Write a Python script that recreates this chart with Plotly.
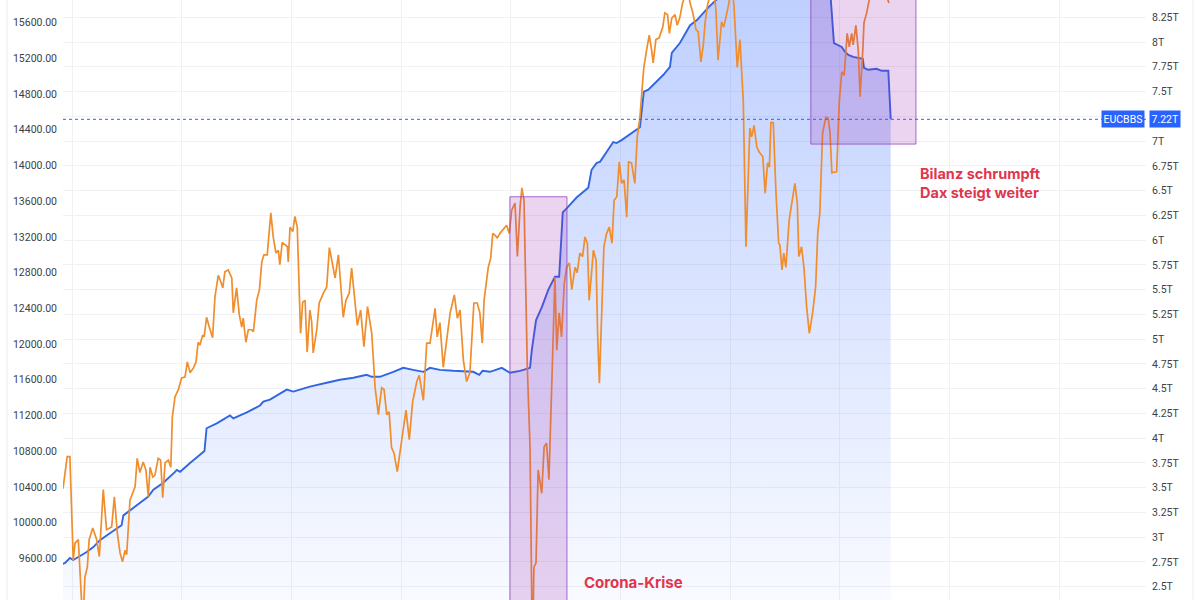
import plotly.graph_objects as go

# ---------------- data ----------------
dax_dates = [
    "2015-12-02", "2015-12-16", "2015-12-25", "2016-01-05", "2016-01-11", "2016-01-22", "2016-02-06", "2016-02-13",
    "2016-02-21", "2016-02-27", "2016-03-10", "2016-03-23", "2016-04-01", "2016-04-14", "2016-04-25", "2016-05-04",
    "2016-05-12", "2016-05-21", "2016-05-31", "2016-06-09", "2016-06-17", "2016-06-26", "2016-07-01", "2016-07-12",
    "2016-07-21", "2016-07-29", "2016-08-05", "2016-08-14", "2016-08-25", "2016-09-03", "2016-09-11", "2016-09-17",
    "2016-09-26", "2016-10-03", "2016-10-14", "2016-10-22", "2016-10-29", "2016-11-06", "2016-11-17", "2016-11-25",
    "2016-11-30", "2016-12-09", "2016-12-20", "2016-12-31", "2017-01-11", "2017-01-19", "2017-01-28", "2017-02-08",
    "2017-02-17", "2017-02-24", "2017-03-02", "2017-03-11", "2017-03-16", "2017-03-24", "2017-04-02", "2017-04-13",
    "2017-04-21", "2017-05-02", "2017-05-10", "2017-05-17", "2017-05-24", "2017-06-04", "2017-06-16", "2017-06-21",
    "2017-07-02", "2017-07-11", "2017-07-19", "2017-07-24", "2017-08-02", "2017-08-10", "2017-08-21", "2017-08-27",
    "2017-09-07", "2017-09-16", "2017-09-24", "2017-10-01", "2017-10-12", "2017-10-24", "2017-11-01", "2017-11-10",
    "2017-11-18", "2017-11-23", "2017-12-01", "2017-12-10", "2017-12-18", "2017-12-21", "2017-12-27", "2018-01-05",
    "2018-01-12", "2018-01-20", "2018-01-31", "2018-02-07", "2018-02-15", "2018-02-22", "2018-03-03", "2018-03-09",
    "2018-03-14", "2018-03-26", "2018-04-03", "2018-04-17", "2018-04-28", "2018-05-07", "2018-05-26", "2018-06-06",
    "2018-06-22", "2018-07-01", "2018-07-12", "2018-07-20", "2018-07-31", "2018-08-08", "2018-08-19", "2018-08-30",
    "2018-09-11", "2018-09-25", "2018-10-06", "2018-10-17", "2018-10-28", "2018-11-05", "2018-11-14", "2018-11-22",
    "2018-11-30", "2018-12-08", "2018-12-19", "2019-01-03", "2019-01-17", "2019-01-28", "2019-02-08", "2019-02-22",
    "2019-03-02", "2019-03-16", "2019-03-27", "2019-04-07", "2019-04-24", "2019-05-01", "2019-05-10", "2019-05-21",
    "2019-06-02", "2019-06-13", "2019-06-27", "2019-07-07", "2019-07-16", "2019-07-27", "2019-08-07", "2019-08-18",
    "2019-08-31", "2019-09-11", "2019-09-20", "2019-09-28", "2019-10-04", "2019-10-18", "2019-10-26", "2019-11-02",
    "2019-11-09", "2019-11-17", "2019-11-26", "2019-12-07", "2019-12-18", "2019-12-27", "2020-01-04", "2020-01-15",
    "2020-01-23", "2020-02-01", "2020-02-07", "2020-02-14", "2020-02-25", "2020-03-05", "2020-03-13", "2020-03-18",
    "2020-03-25", "2020-04-01", "2020-04-13", "2020-04-21", "2020-04-29", "2020-05-07", "2020-05-16", "2020-05-27",
    "2020-06-02", "2020-06-10", "2020-06-18", "2020-06-27", "2020-07-05", "2020-07-14", "2020-07-22", "2020-08-02",
    "2020-08-09", "2020-08-18", "2020-08-27", "2020-09-04", "2020-09-12", "2020-09-18", "2020-09-26", "2020-10-02",
    "2020-10-11", "2020-10-16", "2020-10-22", "2020-10-30", "2020-11-06", "2020-11-15", "2020-11-24", "2020-12-03",
    "2020-12-10", "2020-12-19", "2020-12-27", "2021-01-04", "2021-01-12", "2021-01-21", "2021-01-27", "2021-02-06",
    "2021-02-17", "2021-02-25", "2021-03-06", "2021-03-12", "2021-03-19", "2021-03-28", "2021-04-06", "2021-04-14",
    "2021-04-19", "2021-04-28", "2021-05-09", "2021-05-21", "2021-05-28", "2021-06-06", "2021-06-12", "2021-06-20",
    "2021-07-01", "2021-07-08", "2021-07-17", "2021-07-26", "2021-08-03", "2021-08-13", "2021-08-20", "2021-08-29",
    "2021-09-09", "2021-09-16", "2021-09-25", "2021-10-03", "2021-10-09", "2021-10-16", "2021-10-25", "2021-11-04",
    "2021-11-14", "2021-11-21", "2021-12-03", "2021-12-10", "2021-12-25", "2022-01-05", "2022-01-13", "2022-01-24",
    "2022-02-02", "2022-02-13", "2022-02-22", "2022-03-07", "2022-03-13", "2022-03-21", "2022-03-30", "2022-04-07",
    "2022-04-19", "2022-04-27", "2022-05-05", "2022-05-11", "2022-05-16", "2022-05-24", "2022-06-02", "2022-06-11",
    "2022-06-15", "2022-06-22", "2022-06-28", "2022-07-05", "2022-07-16", "2022-07-27", "2022-08-04", "2022-08-12",
    "2022-08-17", "2022-08-26", "2022-09-03", "2022-09-12", "2022-09-21", "2022-10-02", "2022-10-12", "2022-10-19",
    "2022-10-26", "2022-11-04", "2022-11-15", "2022-11-23", "2022-11-29", "2022-12-05", "2022-12-15", "2022-12-21",
    "2022-12-30", "2023-01-07", "2023-01-15", "2023-01-21", "2023-01-25", "2023-02-01", "2023-02-09", "2023-02-14",
    "2023-02-23", "2023-03-03", "2023-03-09", "2023-03-18", "2023-03-22", "2023-03-31", "2023-04-11", "2023-05-14",
    "2023-05-31", "2023-06-13",
]
dax_values = [
    10380, 10740, 10740, 9580, 9770, 9810, 8850, 9390,
    9500, 9810, 9940, 9810, 9620, 10370, 9920, 9940,
    9950, 10290, 9880, 9660, 9560, 9690, 9640, 10250,
    10340, 10400, 10720, 10560, 10680, 10590, 10290, 10620,
    10510, 10530, 10720, 10700, 10280, 10670, 10700, 10620,
    11180, 11410, 11490, 11620, 11630, 11800, 11680, 11730,
    11800, 12020, 11990, 12100, 12080, 12300, 12190, 12070,
    12530, 12770, 12700, 12630, 12810, 12830, 12740, 12350,
    12630, 12330, 12190, 12290, 12020, 12160, 12160, 12140,
    12490, 12610, 12920, 13000, 13000, 13470, 13200, 13020,
    13050, 12890, 13140, 13110, 13090, 12920, 13310, 13260,
    13430, 13310, 12120, 12470, 12490, 11910, 12380, 12250,
    11900, 12160, 12460, 12570, 12640, 13080, 12740, 13000,
    12300, 12490, 12570, 12850, 12460, 12210, 12380, 11970,
    12420, 12120, 11520, 11210, 11510, 11490, 11210, 11240,
    10840, 10780, 10570, 10930, 11260, 10930, 11350, 11580,
    11650, 11370, 12010, 12010, 12400, 12080, 12240, 11740,
    12050, 12350, 12550, 12290, 12380, 11820, 11580, 11680,
    12460, 12460, 12350, 12010, 12490, 12860, 12960, 13240,
    13220, 13190, 13240, 13280, 13330, 13240, 13500, 13580,
    12980, 13540, 13750, 13610, 11740, 10850, 8500, 9500,
    9550, 10590, 10330, 10850, 10890, 10480, 11520, 12750,
    11930, 12350, 12080, 12680, 12860, 12910, 12610, 12860,
    12800, 13020, 12980, 13200, 13130, 12490, 12800, 13050,
    12940, 12120, 11560, 12490, 13090, 13240, 13310, 13130,
    13610, 13650, 14040, 13800, 13840, 13420, 14040, 14030,
    13800, 14320, 14540, 14810, 15100, 15290, 15460, 15290,
    15150, 15410, 15430, 15550, 15710, 15690, 15480, 15650,
    15690, 15570, 15660, 15820, 15900, 15950, 15820, 15710,
    15520, 15500, 15160, 15350, 15600, 15780, 15910, 16050,
    15740, 15180, 15610, 15550, 15780, 16000, 15800, 15100,
    15410, 14730, 13090, 14420, 14320, 14450, 14210, 14150,
    14100, 13690, 14030, 13980, 14480, 14480, 13690, 13130,
    13110, 12830, 13020, 12860, 13390, 13650, 13800, 13580,
    12980, 13090, 12860, 12420, 12120, 12350, 12640, 13240,
    13470, 14360, 14540, 14530, 14360, 13920, 13930, 13930,
    14730, 15050, 15010, 15290, 15480, 15330, 15480, 15350,
    15570, 15290, 14770, 15290, 15600, 15710, 15900, 16000,
    15950, 15820,
]

ecb_dates = [
    "2015-12-01", "2015-12-09", "2015-12-25", "2016-01-05", "2016-01-22", "2016-02-19", "2016-03-12", "2016-04-03",
    "2016-05-06", "2016-06-14", "2016-06-20", "2016-07-12", "2016-08-14", "2016-09-11", "2016-09-28", "2016-10-31",
    "2016-12-09", "2016-12-15", "2016-12-26", "2017-01-28", "2017-03-17", "2017-03-24", "2017-04-27", "2017-06-10",
    "2017-06-21", "2017-08-05", "2017-09-18", "2017-09-29", "2017-10-21", "2017-12-16", "2018-01-07", "2018-03-03",
    "2018-04-28", "2018-06-11", "2018-07-26", "2018-09-08", "2018-09-25", "2018-10-22", "2018-12-06", "2019-01-08",
    "2019-02-10", "2019-03-16", "2019-04-07", "2019-05-10", "2019-06-23", "2019-08-29", "2019-09-18", "2019-09-29",
    "2019-10-24", "2019-12-02", "2019-12-29", "2020-02-01", "2020-03-05", "2020-03-11", "2020-03-25", "2020-04-13",
    "2020-05-05", "2020-05-27", "2020-06-10", "2020-06-16", "2020-06-22", "2020-07-05", "2020-08-07", "2020-09-15",
    "2020-09-26", "2020-10-13", "2020-10-24", "2020-12-07", "2020-12-18", "2021-01-04", "2021-02-12", "2021-03-06",
    "2021-03-19", "2021-04-03", "2021-05-23", "2021-06-14", "2021-06-20", "2021-07-17", "2021-08-20", "2021-09-11",
    "2021-10-20", "2021-11-05", "2021-12-30", "2022-06-15", "2022-11-27", "2022-12-12", "2022-12-26", "2023-01-07",
    "2023-01-18", "2023-01-29", "2023-02-14", "2023-03-03", "2023-03-18", "2023-03-22", "2023-04-05", "2023-05-03",
    "2023-05-20", "2023-06-11", "2023-06-19",
]
ecb_trillions = [
    2.73, 2.74, 2.79, 2.77, 2.80, 2.85, 2.90, 2.97,
    3.04, 3.12, 3.22, 3.27, 3.35, 3.41, 3.48, 3.55,
    3.66, 3.68, 3.66, 3.75, 3.87, 4.10, 4.15, 4.23,
    4.20, 4.26, 4.33, 4.37, 4.39, 4.49, 4.47, 4.52,
    4.56, 4.59, 4.61, 4.64, 4.62, 4.62, 4.67, 4.71,
    4.69, 4.67, 4.71, 4.69, 4.68, 4.67, 4.64, 4.68,
    4.67, 4.71, 4.66, 4.68, 4.71, 4.89, 5.19, 5.32,
    5.50, 5.63, 5.63, 6.00, 6.28, 6.32, 6.43, 6.53,
    6.71, 6.78, 6.79, 6.99, 6.98, 7.01, 7.09, 7.14,
    7.50, 7.52, 7.67, 7.75, 7.89, 7.99, 8.17, 8.22,
    8.35, 8.40, 8.56, 8.80, 8.62, 7.99, 7.97, 7.95,
    7.90, 7.87, 7.85, 7.84, 7.83, 7.74, 7.72, 7.73,
    7.71, 7.71, 7.22,
]

dax_ticks = [9200 + 400 * i for i in range(17)]
ecb_ticks = [2.5 + 0.25 * i for i in range(24)]

ecb_name = "EUCBBS"
corona_box = {"x0": "2019-12-29", "x1": "2020-07-06", "y0": 8000, "y1": 13650}
shrink_box = {"x0": "2022-09-26", "x1": "2023-09-11", "y0": 14240, "y1": 16600}

# ---------------- styling ----------------
FONT = "Roboto"
TXT = "#3c3f48"
GRID = "#f0f1f4"
BLUE = "#2962ff"
LINE_BLUE = "#3165e2"
ORANGE = "#f08d2c"
RED = "#e0364d"
PURPLE_FILL = "rgba(156,39,176,0.20)"
PURPLE_LINE = "rgba(140,60,190,0.75)"

X_RANGE = ["2015-12-02", "2025-10-16"]
ECB_RANGE = [2.3657, 8.4247]
DAX_RANGE = [9133, 15854]


def fmt_t(v):
    s = f"{v:.2f}".rstrip("0").rstrip(".")
    return s + "T"


last_ecb = ecb_trillions[-1]
# the last-value badge hides the tick label it covers (as on the original price scale)
ecb_ticktext = ["" if abs(v - last_ecb) < 0.12 else fmt_t(v) for v in ecb_ticks]

fig = go.Figure()

fig.add_trace(go.Scatter(
    x=ecb_dates, y=ecb_trillions, yaxis="y", mode="lines",
    line=dict(color=LINE_BLUE, width=1.9),
    fill="tozeroy",
    fillgradient=dict(type="vertical",
                      colorscale=[[0, "rgba(41,98,255,0.03)"], [1, "rgba(41,98,255,0.30)"]],
                      start=ECB_RANGE[0], stop=ECB_RANGE[1]),
    hoverinfo="skip", showlegend=False,
))

fig.add_trace(go.Scatter(
    x=dax_dates, y=dax_values, yaxis="y2", mode="lines",
    line=dict(color=ORANGE, width=1.7),
    hoverinfo="skip", showlegend=False,
))

shapes = []
for b in (corona_box, shrink_box):
    shapes.append(dict(type="rect", xref="x", yref="y2", x0=b["x0"], x1=b["x1"], y0=b["y0"], y1=b["y1"],
                       fillcolor=PURPLE_FILL, line=dict(color=PURPLE_LINE, width=1), layer="above"))
# last-value dotted line
shapes.append(dict(type="line", xref="paper", yref="y", x0=0, x1=1, y0=last_ecb, y1=last_ecb,
                   line=dict(color=BLUE, width=1, dash="dot"), layer="above"))
# faint pane frame lines
shapes.append(dict(type="line", xref="paper", yref="paper", x0=-0.0517, x1=-0.0517, y0=0, y1=1,
                   line=dict(color="#ececef", width=1)))
shapes.append(dict(type="line", xref="paper", yref="paper", x0=1.0434, x1=1.0434, y0=0, y1=1,
                   line=dict(color="#ececef", width=1)))

annotations = [
    dict(text="<b>Corona-Krise</b>", xref="paper", yref="paper", x=0.4792, y=0.030,
         xanchor="left", yanchor="middle", showarrow=False,
         font=dict(family="Inter", size=15, color=RED)),
    dict(text="<b>Bilanz schrumpft<br>Dax steigt weiter</b>", xref="paper", yref="paper", x=0.7895, y=0.6958,
         xanchor="left", yanchor="middle", align="left", showarrow=False,
         font=dict(family="Inter", size=14.5, color=RED)),
    dict(text=ecb_name, xref="paper", yref="y", x=0.9995, y=last_ecb,
         xanchor="right", yanchor="middle", showarrow=False, bgcolor=BLUE, borderpad=1.5,
         font=dict(family=FONT, size=10.5, color="white")),
    dict(text=fmt_t(last_ecb), xref="paper", yref="y", x=1.0025, y=last_ecb,
         xanchor="left", yanchor="middle", showarrow=False, bgcolor=BLUE, borderpad=1.5,
         font=dict(family=FONT, size=10.5, color="white")),
]

fig.update_layout(
    width=1200, height=600,
    margin=dict(l=63, r=54, t=0, b=0),
    paper_bgcolor="white", plot_bgcolor="white",
    font=dict(family=FONT, size=10.5, color=TXT),
    showlegend=False,
    xaxis=dict(range=X_RANGE, type="date", showticklabels=False, showgrid=True,
               gridcolor=GRID, gridwidth=1, dtick="M12", tick0="2016-01-01",
               zeroline=False, showline=False, ticks=""),
    yaxis=dict(range=ECB_RANGE, side="right", tickvals=ecb_ticks,
               ticktext=ecb_ticktext, showgrid=True, gridcolor=GRID,
               zeroline=False, showline=False, ticks="", ticklabelstandoff=5,
               tickfont=dict(family=FONT, size=10.5, color=TXT)),
    yaxis2=dict(range=DAX_RANGE, side="left", overlaying="y", tickvals=dax_ticks,
                ticktext=[f"{v:.2f}" for v in dax_ticks], showgrid=False,
                zeroline=False, showline=False, ticks="", ticklabelstandoff=5,
                tickfont=dict(family=FONT, size=10.5, color=TXT)),
    shapes=shapes,
    annotations=annotations,
)

fig.write_html(
    "out.html",
    config={"displayModeBar": False},
    post_script="document.body.style.margin='0';document.body.style.overflow='hidden';",
)
